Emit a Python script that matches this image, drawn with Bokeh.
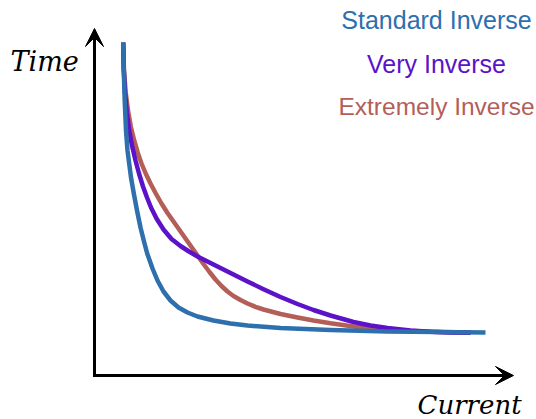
from bokeh.plotting import figure
from bokeh.models import Range1d, Label, Arrow, VeeHead
from bokeh.embed import file_html
from bokeh.resources import INLINE

# Data (current, time) in arbitrary units
std_current = [28.7, 29.3, 30.2, 31.5, 33, 34.3, 36.5, 39.3, 42.5, 46, 49.5, 52.7, 58, 63, 69, 76, 84, 93, 103, 119, 136, 153, 186, 236, 293, 391]
std_time = [333, 305, 275, 245, 225, 215, 198, 182, 165, 148, 134, 122, 107, 95, 84, 75, 68, 63, 59, 55, 52, 50, 47.5, 45.5, 44, 43]

very_current = [28.7, 29.3, 30.5, 32.3, 34.7, 37.5, 41, 44.5, 48.5, 52.5, 56.5, 62, 69, 77, 86, 94.5, 103, 119, 136, 153, 169, 186, 203, 219, 236, 259, 276, 293, 316, 336, 356, 376]
very_time = [333, 305, 283, 263, 245, 230, 215, 202, 189, 178, 168, 157, 146, 136.5, 129.5, 124, 119, 111, 102.5, 94, 86.3, 78.5, 71.5, 65.5, 60, 53.5, 50, 47.5, 45, 43.7, 43, 42.8]

ext_current = [28.7, 29.5, 31.2, 33.5, 36.3, 39.7, 43.2, 47, 51.2, 56, 61.3, 67, 73, 79, 85, 91, 97, 103, 109, 115, 121, 127, 133, 139, 146, 153, 161, 169, 186, 203, 219, 236, 259, 276, 293, 316, 346, 376]
ext_time = [333, 305, 283, 265, 249, 235, 223, 212, 202, 192, 182, 172, 162.5, 154, 145.5, 137, 128.5, 120, 111.5, 103.5, 96, 89.5, 84, 79.5, 75.5, 72, 68.7, 66, 61.5, 58, 55, 52.2, 49, 47, 45.7, 44.5, 43.5, 43]

series_names = ["Standard Inverse", "Very Inverse", "Extremely Inverse"]
series_colors = ["#2e6fad", "#5b12c8", "#b35f58"]

p = figure(width=536, height=419, output_backend="svg", toolbar_location=None,
           x_range=Range1d(-94, 442), y_range=Range1d(-44, 375),
           min_border=0, min_border_left=0, min_border_right=0,
           min_border_top=0, min_border_bottom=0)
p.axis.visible = False
p.grid.visible = False
p.outline_line_color = None
p.background_fill_color = "white"
p.border_fill_color = "white"

# Axes arrows
p.add_layout(Arrow(x_start=0, y_start=-1.5, x_end=0, y_end=347, line_width=3, line_color="black",
                   end=VeeHead(size=18, fill_color="black", line_color="black", line_width=1)))
p.add_layout(Arrow(x_start=-1.5, y_start=0, x_end=419, y_end=0, line_width=3, line_color="black",
                   end=VeeHead(size=18, fill_color="black", line_color="black", line_width=1)))

# Curves (drawn brown, purple, blue)
p.line(ext_current, ext_time, line_color=series_colors[2], line_width=4.5, line_join="round")
p.line(very_current, very_time, line_color=series_colors[1], line_width=4.5, line_join="round")
p.line(std_current, std_time, line_color=series_colors[0], line_width=4.5, line_join="round")

# Legend texts
for name, col, yy, fs in zip(series_names, series_colors, [356, 312, 269], ["25px", "25px", "24.5px"]):
    p.add_layout(Label(x=342, y=yy, text=name, text_color=col, text_align="center",
                       text_baseline="alphabetic", text_font="Liberation Sans",
                       text_font_size=fs))

p.add_layout(Label(x=-84, y=314, text="Time", text_font="DejaVu Serif", text_font_style="italic",
                   text_font_size="27px", text_baseline="alphabetic", text_color="black"))
p.add_layout(Label(x=323, y=-29, text="Current", text_font="DejaVu Serif", text_font_style="italic",
                   text_font_size="26px", text_baseline="alphabetic", text_color="black"))

open("out.html", "w").write(file_html(p, INLINE))
